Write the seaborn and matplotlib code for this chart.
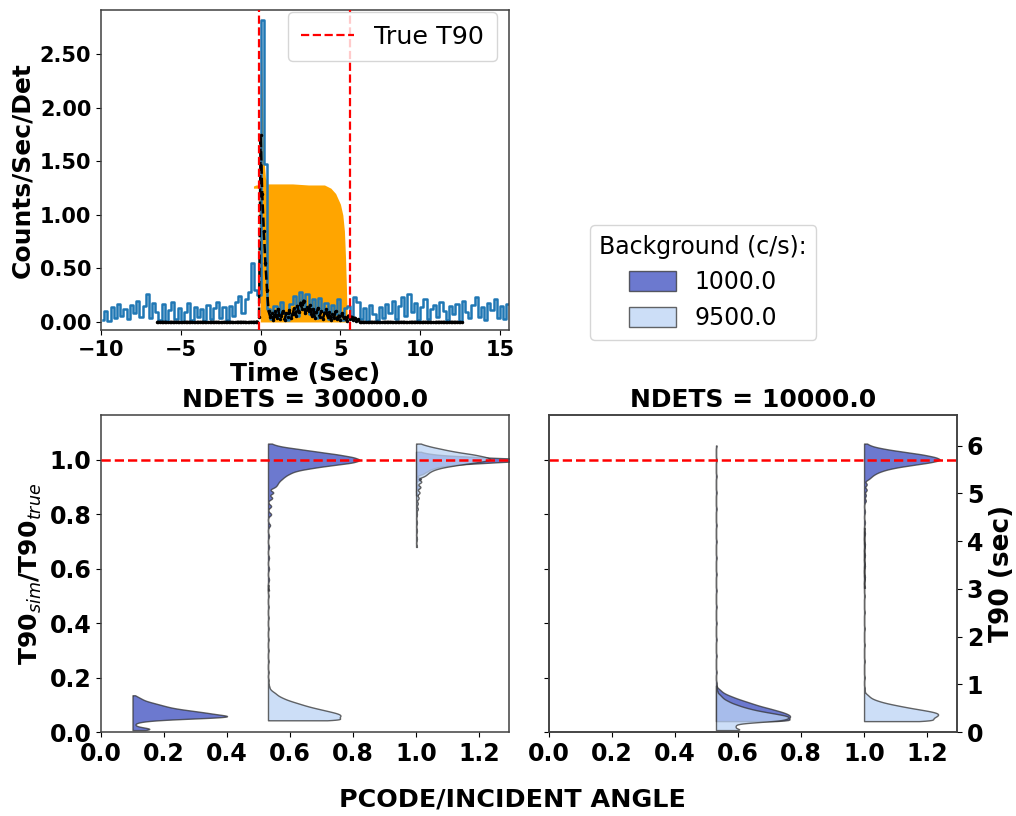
import numpy as np
import pandas as pd
import matplotlib
matplotlib.use("Agg")
import matplotlib.pyplot as plt
import seaborn as sns
from matplotlib.patches import Patch
from matplotlib.ticker import FormatStrFormatter

# ------------------------------------------------------------------ light curve data
LC_T_START = -10.0
LC_BIN = 0.2
BLUE_RATE = [
    0.02, 0.10, 0.01, 0.14, 0.04, 0.17, 0.06, 0.12, 0.03, 0.16,
    0.08, 0.20, 0.05, 0.15, 0.26, 0.04, 0.18, 0.09, 0.02, 0.17,
    0.01, 0.11, 0.19, 0.03, 0.13, 0.00, 0.09, 0.18, 0.02, 0.14,
    0.05, 0.12, 0.01, 0.16, 0.03, 0.13, 0.19, 0.04, 0.14, 0.02,
    0.15, 0.06, 0.19, 0.24, 0.08, 0.21, 0.28, 0.55, 0.30,
    0.25, 2.82, 1.48,
    0.12, 0.03, 0.15, 0.05, 0.19, 0.08, 0.02, 0.17, 0.24, 0.06,
    0.28, 0.12, 0.26, 0.07, 0.21, 0.04, 0.22, 0.10, 0.18, 0.03,
    0.16, 0.07, 0.21, 0.02, 0.13, 0.15, 0.05, 0.23,
    0.19, 0.03, 0.13, 0.01, 0.16, 0.07, 0.02, 0.14, 0.04, 0.17,
    0.08, 0.20, 0.03, 0.15, 0.23, 0.06, 0.26, 0.09, 0.18, 0.02,
    0.14, 0.21, 0.03, 0.12, 0.16, 0.05, 0.19, 0.10, 0.02, 0.15,
    0.07, 0.17, 0.01, 0.20, 0.09, 0.04, 0.16, 0.23, 0.05, 0.14,
    0.02, 0.18, 0.11, 0.21, 0.04, 0.15, 0.03, 0.17,
]

ORANGE_T = [-0.45, -0.30, -0.12, -0.02, 0.00, 0.03, 0.06, 0.10, 0.15, 0.22, 0.30, 0.45,
            1.00, 2.00, 3.00, 4.00, 4.40, 4.70, 5.00, 5.15, 5.25, 5.32, 5.38, 5.42, 5.45]
ORANGE_HI = [1.27, 1.28, 1.28, 1.40, 2.75, 2.85, 2.60, 2.20, 1.80, 1.50, 1.35, 1.29,
             1.29, 1.29, 1.28, 1.28, 1.25, 1.20, 1.10, 1.00, 0.85, 0.60, 0.30, 0.05, 0.00]
ORANGE_LO = [1.25, 1.25, 1.25, 0.00, 0.00, 0.00, 0.00, 0.00, 0.00, 0.00, 0.00, 0.00,
             0.00, 0.00, 0.00, 0.00, 0.00, 0.00, 0.00, 0.00, 0.00, 0.00, 0.00, 0.00, 0.00]

BLACK_T_START = -6.5
BLACK_DT = 0.1
BLACK_BURST = [
    0.00, 0.05, 1.75, 1.20, 0.85, 0.55, 0.30, 0.10, 0.05, 0.08,
    0.02, 0.10, 0.04, 0.12, 0.03, 0.06, 0.10, 0.02, 0.08, 0.05,
    0.11, 0.04, 0.07, 0.13, 0.06, 0.15, 0.09, 0.18, 0.12, 0.20,
    0.08, 0.14, 0.10, 0.16, 0.06, 0.12, 0.04, 0.09, 0.13, 0.05,
    0.10, 0.03, 0.08, 0.12, 0.05, 0.09, 0.02, 0.07, 0.04, 0.10,
    0.03, 0.06, 0.02, 0.08, 0.04, 0.05, 0.01, 0.06, 0.03, 0.05,
    0.02, 0.04, 0.01, 0.03, 0.00,
]
BLACK_RATE = [0.0] * 63 + BLACK_BURST + [0.0] * 64

T90_START = -0.13
T90_TRUE = 5.7

# ------------------------------------------------------------------ violin data
NDETS = [30000.0, 10000.0]
BACKGROUNDS = [1000.0, 9500.0]
PCODES = [0.1, 0.53, 1.0]

# T90_sim / T90_true samples, given as value / count pairs
N30_B1000_P010_VAL = [0.007, 0.011, 0.015, 0.020, 0.025, 0.030, 0.035, 0.040, 0.045, 0.050, 0.055,
                      0.060, 0.065, 0.070, 0.075, 0.080, 0.085, 0.090, 0.095, 0.100, 0.105, 0.110,
                      0.115, 0.120, 0.125, 0.130, 0.135]
N30_B1000_P010_CNT = [5, 7, 5, 2, 1, 1, 2, 5, 12, 25, 40, 38, 33, 30, 26, 22, 18, 15, 13, 11, 9, 7,
                      5, 4, 3, 2, 1]

N30_B1000_P053_VAL = [0.52, 0.56, 0.60, 0.64, 0.68, 0.72, 0.76, 0.80, 0.83, 0.86, 0.88, 0.90, 0.91,
                      0.92, 0.93, 0.94, 0.95, 0.96, 0.97, 0.98, 0.99, 1.00, 1.01, 1.02, 1.03, 1.04,
                      1.05, 1.06]
N30_B1000_P053_CNT = [1, 1, 1, 1, 1, 1, 2, 3, 3, 4, 5, 5, 6, 7, 9, 11, 14, 18, 28, 40, 55, 60, 55,
                      45, 32, 20, 7, 2]

N30_B9500_P053_VAL = [0.043, 0.048, 0.053, 0.058, 0.063, 0.068, 0.073, 0.078, 0.083, 0.088, 0.093,
                      0.098, 0.103, 0.108, 0.113, 0.118, 0.123, 0.128, 0.133, 0.138, 0.143, 0.148,
                      0.155, 0.165, 0.175, 0.19, 0.22, 0.26, 0.30, 0.34, 0.38, 0.42, 0.46, 0.50, 0.54]
N30_B9500_P053_CNT = [66, 46, 48, 50, 50, 48, 44, 40, 36, 32, 28, 25, 22, 19, 16, 13, 11, 9, 7, 6, 5,
                      4, 3, 2, 1, 1, 1, 1, 1, 1, 1, 1, 1, 1, 1]

N30_B1000_P100_VAL = [0.87, 0.90, 0.93, 0.95, 0.96, 0.97, 0.98, 0.99, 1.00, 1.01, 1.02, 1.03]
N30_B1000_P100_CNT = [1, 2, 3, 4, 6, 9, 16, 35, 70, 30, 8, 2]

N30_B9500_P100_VAL = [0.68, 0.71, 0.74, 0.77, 0.80, 0.82, 0.84, 0.86, 0.88, 0.90, 0.92, 0.94, 0.95,
                      0.96, 0.97, 0.98, 0.99, 1.00, 1.01, 1.02, 1.03, 1.04, 1.05, 1.06]
N30_B9500_P100_CNT = [1, 1, 1, 1, 1, 2, 2, 3, 4, 5, 6, 7, 9, 12, 18, 30, 45, 60, 55, 45, 30, 20, 10, 3]

N10_B1000_P053_VAL = [0.040, 0.045, 0.050, 0.055, 0.060, 0.065, 0.070, 0.075, 0.080, 0.085, 0.090,
                      0.095, 0.100, 0.105, 0.110, 0.115, 0.120, 0.125, 0.130, 0.135, 0.140, 0.145,
                      0.150, 0.155, 0.160, 0.170, 0.180, 0.22, 0.28, 0.34, 0.40, 0.46, 0.52, 0.58,
                      0.64, 0.70, 0.76, 0.82, 0.88, 0.94, 1.00, 1.053]
N10_B1000_P053_CNT = [70, 50, 52, 54, 54, 52, 50, 47, 43, 40, 36, 32, 29, 26, 23, 20, 17, 14, 12, 9,
                      7, 5, 4, 3, 2, 1, 1, 1, 1, 1, 1, 1, 1, 1, 1, 1, 1, 1, 1, 1, 1, 1]

N10_B9500_P053_VAL = [0.007, 0.012, 0.017, 0.022, 0.027, 0.032, 0.037, 0.042, 0.047, 0.052, 0.057,
                      0.062, 0.067, 0.072, 0.077, 0.082, 0.087, 0.092, 0.097, 0.102, 0.107, 0.112,
                      0.117, 0.122, 0.127, 0.132, 0.137, 0.142, 0.150, 0.160, 0.170]
N10_B9500_P053_CNT = [25, 15, 15, 15, 15, 18, 35, 50, 54, 56, 56, 52, 46, 40, 34, 29, 25, 21, 18,
                      15, 12, 10, 8, 6, 5, 4, 3, 2, 2, 1, 1]

N10_B1000_P100_VAL = [0.53, 0.57, 0.61, 0.65, 0.69, 0.73, 0.77, 0.81, 0.85, 0.87, 0.89, 0.91, 0.93,
                      0.94, 0.95, 0.96, 0.97, 0.98, 0.99, 1.00, 1.01, 1.02, 1.03, 1.04, 1.05, 1.06]
N10_B1000_P100_CNT = [1, 1, 1, 1, 1, 1, 1, 1, 2, 2, 3, 3, 4, 6, 9, 14, 22, 35, 50, 60, 55, 45, 30,
                      16, 6, 2]

N10_B9500_P100_VAL = [0.040, 0.045, 0.050, 0.055, 0.060, 0.065, 0.070, 0.075, 0.080, 0.085, 0.090,
                      0.095, 0.100, 0.105, 0.110, 0.115, 0.120, 0.125, 0.130, 0.135, 0.140, 0.150,
                      0.160, 0.20, 0.26, 0.32, 0.38, 0.44, 0.50, 0.56, 0.62, 0.68, 0.75]
N10_B9500_P100_CNT = [64, 48, 50, 52, 54, 55, 54, 50, 44, 38, 32, 27, 22, 17, 13, 10, 7, 5, 4, 3, 2,
                      1, 1, 1, 1, 1, 1, 1, 1, 1, 1, 1, 1]

VIOLINS = [
    # (ndets, background, pcode, values, counts)
    (30000.0, 1000.0, 0.1, N30_B1000_P010_VAL, N30_B1000_P010_CNT),
    (30000.0, 1000.0, 0.53, N30_B1000_P053_VAL, N30_B1000_P053_CNT),
    (30000.0, 1000.0, 1.0, N30_B1000_P100_VAL, N30_B1000_P100_CNT),
    (30000.0, 9500.0, 0.53, N30_B9500_P053_VAL, N30_B9500_P053_CNT),
    (30000.0, 9500.0, 1.0, N30_B9500_P100_VAL, N30_B9500_P100_CNT),
    (10000.0, 1000.0, 0.53, N10_B1000_P053_VAL, N10_B1000_P053_CNT),
    (10000.0, 1000.0, 1.0, N10_B1000_P100_VAL, N10_B1000_P100_CNT),
    (10000.0, 9500.0, 0.53, N10_B9500_P053_VAL, N10_B9500_P053_CNT),
    (10000.0, 9500.0, 1.0, N10_B9500_P100_VAL, N10_B9500_P100_CNT),
]

# ------------------------------------------------------------------ styles
# half-width reached at the peak, and KDE bandwidth (ratio units)
VIOLIN_STYLE = {
    (30000.0, 1000.0, 0.1): (0.30, 0.004),
    (30000.0, 1000.0, 0.53): (0.29, 0.006),
    (30000.0, 1000.0, 1.0): (0.40, 0.005),
    (30000.0, 9500.0, 0.53): (0.23, 0.005),
    (30000.0, 9500.0, 1.0): (0.235, 0.006),
    (10000.0, 1000.0, 0.53): (0.235, 0.005),
    (10000.0, 1000.0, 1.0): (0.24, 0.006),
    (10000.0, 9500.0, 0.53): (0.23, 0.004),
    (10000.0, 9500.0, 1.0): (0.235, 0.005),
}
BKG_COLORS = {1000.0: "#3b4cc0", 9500.0: "#bcd3f5"}
VIOLIN_ALPHA = 0.75
EDGE = "#333333"

W = 1016
H = 816
fig = plt.figure(figsize=(W / 100, H / 100), dpi=100)


def box(l, t, r, b):
    return [l / W, 1 - b / H, (r - l) / W, (b - t) / H]


BOLD = dict(fontweight="bold")

# ------------------------------------------------------------------ top-left light curve
ax_lc = fig.add_axes(box(101, 10, 509, 330))
edges = LC_T_START + LC_BIN * np.arange(len(BLUE_RATE) + 1)
centers = 0.5 * (edges[:-1] + edges[1:])
ax_lc.fill_between(ORANGE_T, ORANGE_LO, ORANGE_HI, color="orange", lw=0, zorder=1)
sns.lineplot(x=centers, y=BLUE_RATE, drawstyle="steps-mid", color="#1f77b4", lw=1.8,
             ax=ax_lc, zorder=2)
black_t = BLACK_T_START + BLACK_DT * np.arange(len(BLACK_RATE))
ax_lc.plot(black_t, BLACK_RATE, color="black", lw=1.8, ls="--", marker=".", ms=3, zorder=3)
h_t90 = ax_lc.axvline(T90_START, color="red", ls="--", lw=1.6, zorder=4, label="True T90")
ax_lc.axvline(T90_START + T90_TRUE, color="red", ls="--", lw=1.6, zorder=4)
ax_lc.set_xlim(-10, 15.56)
ax_lc.set_ylim(-0.075, 2.915)
ax_lc.set_yticks([0, 0.5, 1.0, 1.5, 2.0, 2.5])
ax_lc.yaxis.set_major_formatter(FormatStrFormatter("%.2f"))
ax_lc.set_xlabel("Time (Sec)", fontsize=18, labelpad=2, **BOLD)
ax_lc.set_ylabel("Counts/Sec/Det", fontsize=18, labelpad=4, **BOLD)
ax_lc.tick_params(labelsize=15)
for lab in ax_lc.get_xticklabels() + ax_lc.get_yticklabels():
    lab.set_fontweight("bold")
ax_lc.legend(handles=[h_t90], loc="upper right", bbox_to_anchor=(0.9706, 0.9937),
             borderaxespad=0.0, fontsize=18.3, handlelength=2.1, borderpad=0.5)

# ------------------------------------------------------------------ violin panels
ax_l = fig.add_axes(box(101, 415, 509, 732))
ax_r = fig.add_axes(box(549, 415, 957, 732))
panel = {30000.0: ax_l, 10000.0: ax_r}

for bkg in BACKGROUNDS:
    for nd, bg, pc, vals, cnts in VIOLINS:
        if bg != bkg:
            continue
        ext, bw = VIOLIN_STYLE[(nd, bg, pc)]
        samples = np.repeat(np.asarray(vals, float), cnts)
        label = f"{bg}"
        df = pd.DataFrame({"pcode": pc, "ratio": samples, "bkg": label})
        scott = np.std(samples, ddof=1) * len(samples) ** -0.2
        sns.violinplot(
            data=df, x="pcode", y="ratio", hue="bkg",
            hue_order=["_pad", label],
            palette={"_pad": BKG_COLORS[bg], label: BKG_COLORS[bg]},
            saturation=1, split=True, dodge=True, native_scale=True,
            inner=None, cut=0, gridsize=500, density_norm="width",
            width=2 * ext, bw_adjust=bw / scott,
            linewidth=1.0, linecolor=EDGE, alpha=VIOLIN_ALPHA,
            legend=False, ax=panel[nd],
        )

for nd, ax in panel.items():
    ax.axhline(1.0, color="red", ls="--", lw=1.8, zorder=5)
    ax.set_xlim(0, 1.295)
    ax.set_ylim(0, 1.165)
    ax.set_xticks([0.0, 0.2, 0.4, 0.6, 0.8, 1.0, 1.2])
    ax.xaxis.set_major_formatter(FormatStrFormatter("%.1f"))
    ax.set_xlabel("")
    ax.set_ylabel("")
    ax.set_title(f"NDETS = {nd}", fontsize=18, pad=6, **BOLD)
    ax.tick_params(labelsize=17)
    for lab in ax.get_xticklabels() + ax.get_yticklabels():
        lab.set_fontweight("bold")

ax_l.set_yticks([0.0, 0.2, 0.4, 0.6, 0.8, 1.0])
ax_l.yaxis.set_major_formatter(FormatStrFormatter("%.1f"))
ax_l.set_ylabel(r"T90$_{sim}$/T90$_{true}$", fontsize=18, labelpad=4, **BOLD)
ax_r.tick_params(axis="y", left=False, labelleft=False)

ax_sec = ax_r.twinx()
ax_sec.set_ylim(0, 1.165 * T90_TRUE)
ax_sec.set_yticks([0, 1, 2, 3, 4, 5, 6])
ax_sec.tick_params(labelsize=17)
for lab in ax_sec.get_yticklabels():
    lab.set_fontweight("bold")
ax_sec.set_ylabel("T90 (sec)", fontsize=19, labelpad=4, **BOLD)

for ax in (ax_lc, ax_l, ax_r, ax_sec):
    for sp in ax.spines.values():
        sp.set_color("0.25")
        sp.set_linewidth(1.1)

fig.text(0.504, 0.020, "PCODE/INCIDENT ANGLE", ha="center", va="center",
         fontsize=18.3, **BOLD)

handles = [Patch(facecolor=BKG_COLORS[b], alpha=VIOLIN_ALPHA, edgecolor=EDGE,
                 label=f"{b}") for b in BACKGROUNDS]
fig.legend(handles=handles, title="Background (c/s):", loc="center",
           bbox_to_anchor=(0.692, 0.654), fontsize=17, title_fontsize=17,
           handlelength=2.0, handleheight=0.9)

fig.savefig("out.png", dpi=100)
